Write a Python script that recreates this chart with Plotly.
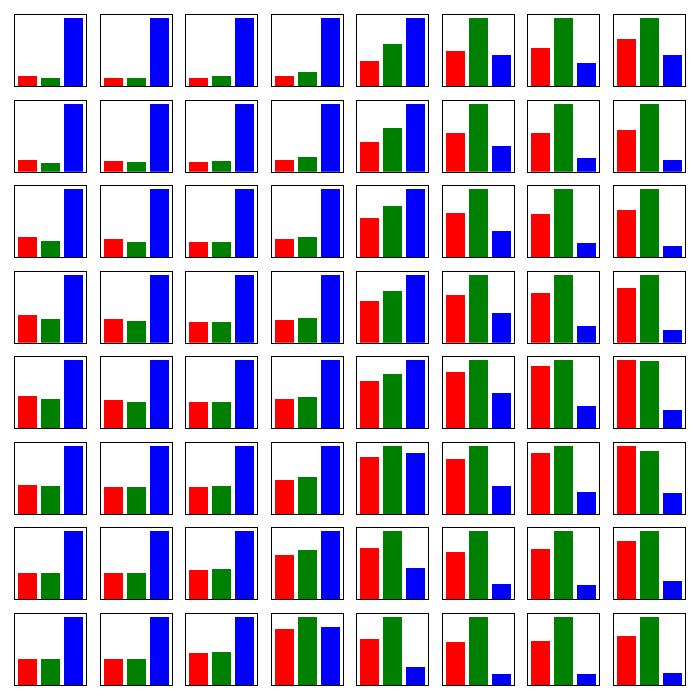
import plotly.graph_objects as go
from plotly.subplots import make_subplots

categories = ["A", "B", "C"]
bar_colors = ["#FF0000", "#008000", "#0000FF"]

red_vals = [
    [0.15, 0.12, 0.12, 0.15, 0.37, 0.52, 0.56, 0.69],
    [0.18, 0.17, 0.15, 0.18, 0.44, 0.58, 0.57, 0.61],
    [0.30, 0.26, 0.23, 0.26, 0.57, 0.64, 0.63, 0.69],
    [0.41, 0.36, 0.31, 0.34, 0.62, 0.71, 0.74, 0.81],
    [0.47, 0.41, 0.38, 0.42, 0.69, 0.82, 0.91, 1.00],
    [0.43, 0.40, 0.40, 0.50, 0.84, 0.80, 0.90, 1.00],
    [0.39, 0.39, 0.42, 0.64, 0.75, 0.69, 0.73, 0.85],
    [0.39, 0.39, 0.47, 0.82, 0.67, 0.63, 0.64, 0.72],
]
green_vals = [
    [0.12, 0.12, 0.15, 0.21, 0.62, 1.00, 1.00, 1.00],
    [0.14, 0.15, 0.17, 0.23, 0.64, 1.00, 1.00, 1.00],
    [0.24, 0.23, 0.23, 0.29, 0.75, 1.00, 1.00, 1.00],
    [0.36, 0.33, 0.31, 0.37, 0.77, 1.00, 1.00, 1.00],
    [0.42, 0.39, 0.38, 0.45, 0.79, 1.00, 1.00, 0.985],
    [0.41, 0.40, 0.41, 0.55, 1.00, 1.00, 1.00, 0.93],
    [0.38, 0.39, 0.44, 0.72, 1.00, 1.00, 1.00, 1.00],
    [0.38, 0.39, 0.48, 1.00, 1.00, 1.00, 1.00, 1.00],
]
blue_vals = [
    [1.00, 1.00, 1.00, 1.00, 1.00, 0.46, 0.34, 0.46],
    [1.00, 1.00, 1.00, 1.00, 1.00, 0.39, 0.21, 0.18],
    [1.00, 1.00, 1.00, 1.00, 1.00, 0.38, 0.21, 0.17],
    [1.00, 1.00, 1.00, 1.00, 1.00, 0.44, 0.25, 0.20],
    [1.00, 1.00, 1.00, 1.00, 1.00, 0.52, 0.32, 0.27],
    [1.00, 1.00, 1.00, 1.00, 0.90, 0.41, 0.33, 0.31],
    [1.00, 1.00, 1.00, 1.00, 0.45, 0.23, 0.21, 0.26],
    [1.00, 1.00, 1.00, 0.85, 0.26, 0.17, 0.17, 0.18],
]

n = 8
fig = make_subplots(rows=n, cols=n, horizontal_spacing=0.0213, vertical_spacing=0.0213)

for r in range(n):
    for c in range(n):
        fig.add_trace(
            go.Bar(
                x=[0, 1, 2],
                y=[red_vals[r][c], green_vals[r][c], blue_vals[r][c]],
                marker=dict(color=bar_colors, line=dict(width=0)),
                width=0.83,
                showlegend=False,
                hoverinfo="skip",
            ),
            row=r + 1,
            col=c + 1,
        )

fig.update_xaxes(
    range=[-0.54, 2.54], showticklabels=False, ticks="", showgrid=False,
    zeroline=False, showline=True, mirror=True, linecolor="black", linewidth=1,
)
fig.update_yaxes(
    range=[0, 1.04], showticklabels=False, ticks="", showgrid=False,
    zeroline=False, showline=True, mirror=True, linecolor="black", linewidth=1,
)
fig.update_layout(
    width=700, height=700,
    margin=dict(l=15, r=15, t=15, b=15),
    paper_bgcolor="white", plot_bgcolor="white",
    bargap=0,
)
fig.write_html("out.html")
